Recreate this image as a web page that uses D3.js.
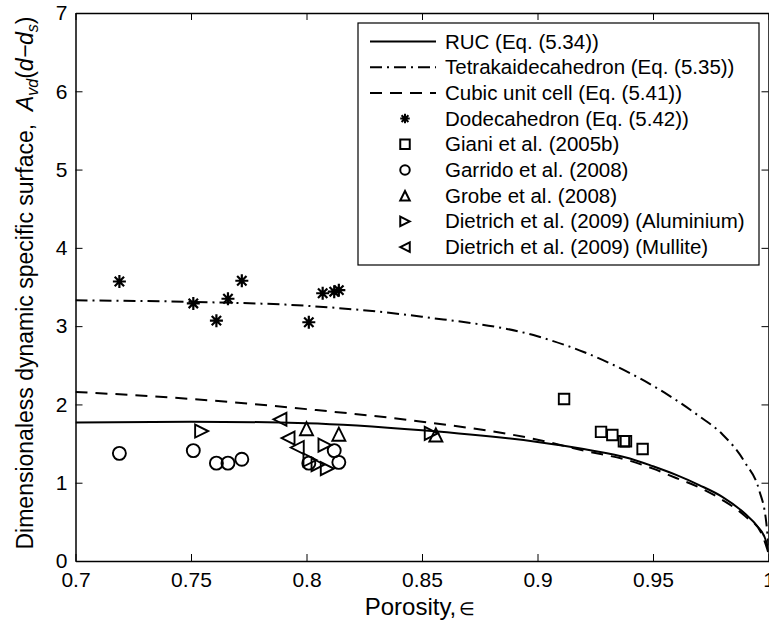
<!DOCTYPE html>
<html>
<head>
<meta charset="utf-8">
<script src="https://cdn.jsdelivr.net/npm/d3@7"></script>
<style>
  body { margin: 0; background: #fff; }
  text { font-family: "Liberation Sans", Arial, sans-serif; fill: #000; }
</style>
</head>
<body>
<div id="vis"></div>
<script>
// curves
var rucX   = [0.70, 0.75, 0.80, 0.85, 0.90, 0.92, 0.94, 0.95, 0.96, 0.97, 0.98, 0.99, 0.995, 0.999, 1.0];
var rucY   = [1.77, 1.78, 1.76, 1.67, 1.52, 1.43, 1.31, 1.21, 1.10, 0.97, 0.82, 0.60, 0.45, 0.25, 0.12];
var tetraX = [0.70, 0.75, 0.80, 0.85, 0.90, 0.92, 0.94, 0.955, 0.97, 0.98, 0.99, 0.996, 0.999, 1.0];
var tetraY = [3.33, 3.31, 3.26, 3.12, 2.87, 2.67, 2.40, 2.15, 1.85, 1.62, 1.25, 0.90, 0.50, 0.20];
var cubicX = [0.70, 0.75, 0.80, 0.85, 0.90, 0.92, 0.94, 0.95, 0.96, 0.97, 0.98, 0.99, 0.997, 1.0];
var cubicY = [2.16, 2.07, 1.94, 1.78, 1.55, 1.41, 1.28, 1.18, 1.06, 0.94, 0.78, 0.57, 0.35, 0.10];

// measured points
var dodecaX  = [0.719, 0.751, 0.761, 0.766, 0.772, 0.801, 0.807, 0.812, 0.814];
var dodecaY  = [3.57, 3.29, 3.07, 3.35, 3.58, 3.05, 3.42, 3.44, 3.46];
var gianiX   = [0.9115, 0.9275, 0.9324, 0.9374, 0.9383, 0.9455];
var gianiY   = [2.07, 1.65, 1.61, 1.53, 1.53, 1.43];
var garridoX = [0.719, 0.751, 0.761, 0.766, 0.772, 0.801, 0.812, 0.814];
var garridoY = [1.375, 1.41, 1.25, 1.25, 1.30, 1.25, 1.41, 1.26];
var grobeX   = [0.800, 0.814, 0.856];
var grobeY   = [1.69, 1.62, 1.61];
var aluX     = [0.7546, 0.8015, 0.805, 0.808, 0.809, 0.854];
var aluY     = [1.66, 1.29, 1.23, 1.48, 1.18, 1.63];
var mulX     = [0.7885, 0.792, 0.796];
var mulY     = [1.81, 1.57, 1.45];

var xTicks = [0.7, 0.75, 0.8, 0.85, 0.9, 0.95, 1];
var yTicks = [0, 1, 2, 3, 4, 5, 6, 7];

var legendLabels = [
  'RUC (Eq. (5.34))',
  'Tetrakaidecahedron (Eq. (5.35))',
  'Cubic unit cell (Eq. (5.41))',
  'Dodecahedron (Eq. (5.42))',
  'Giani et al. (2005b)',
  'Garrido et al. (2008)',
  'Grobe et al. (2008)',
  'Dietrich et al. (2009) (Aluminium)',
  'Dietrich et al. (2009) (Mullite)'
];

var width = 769, height = 625;
var plotLeft = 75.5, plotRight = 768.5, plotTop = 13, plotBottom = 561;

var svg = d3.select('#vis').append('svg')
  .attr('width', width)
  .attr('height', height);

var xScale = d3.scaleLinear().domain([0.7, 1]).range([plotLeft, plotRight]);
var yScale = d3.scaleLinear().domain([0, 7]).range([plotBottom, plotTop]);

function zip(xs, ys) {
  return xs.map(function(x, i) { return [x, ys[i]]; });
}

svg.append('clipPath').attr('id', 'clip')
  .append('rect')
  .attr('x', plotLeft).attr('y', plotTop)
  .attr('width', plotRight - plotLeft).attr('height', plotBottom - plotTop);

var line = d3.line()
  .x(function(d) { return xScale(d[0]); })
  .y(function(d) { return yScale(d[1]); })
  .curve(d3.curveMonotoneX);

var plot = svg.append('g').attr('clip-path', 'url(#clip)');

var curves = [
  { data: zip(rucX, rucY), dash: null },
  { data: zip(tetraX, tetraY), dash: '12,5,2,5' },
  { data: zip(cubicX, cubicY), dash: '12,8' }
];

curves.forEach(function(c) {
  plot.append('path')
    .attr('d', line(c.data))
    .attr('fill', 'none')
    .attr('stroke', '#000')
    .attr('stroke-width', 2)
    .attr('stroke-dasharray', c.dash);
});

// marker shapes
function markerPath(type, s) {
  var h = s / 2;
  if (type === 'star') {
    var d = h * 0.72;
    return 'M' + (-h) + ',0L' + h + ',0M0,' + (-h) + 'L0,' + h +
      'M' + (-d) + ',' + (-d) + 'L' + d + ',' + d +
      'M' + (-d) + ',' + d + 'L' + d + ',' + (-d);
  }
  if (type === 'square') {
    return 'M' + (-h) + ',' + (-h) + 'H' + h + 'V' + h + 'H' + (-h) + 'Z';
  }
  if (type === 'circle') {
    return 'M' + h + ',0A' + h + ',' + h + ' 0 1,1 ' + (-h) + ',0A' + h + ',' + h + ' 0 1,1 ' + h + ',0Z';
  }
  if (type === 'up') {
    return 'M0,' + (-h) + 'L' + h + ',' + h + 'L' + (-h) + ',' + h + 'Z';
  }
  if (type === 'right') {
    return 'M' + h + ',0L' + (-h) + ',' + h + 'L' + (-h) + ',' + (-h) + 'Z';
  }
  if (type === 'left') {
    return 'M' + (-h) + ',0L' + h + ',' + (-h) + 'L' + h + ',' + h + 'Z';
  }
}

var pointSets = [
  { data: zip(dodecaX, dodecaY), type: 'star', size: 13 },
  { data: zip(gianiX, gianiY), type: 'square', size: 10.5 },
  { data: zip(garridoX, garridoY), type: 'circle', size: 13 },
  { data: zip(grobeX, grobeY), type: 'up', size: 13 },
  { data: zip(aluX, aluY), type: 'right', size: 13 },
  { data: zip(mulX, mulY), type: 'left', size: 13 }
];

pointSets.forEach(function(p) {
  svg.append('g').selectAll('path')
    .data(p.data)
    .enter().append('path')
    .attr('transform', function(d) { return 'translate(' + xScale(d[0]) + ',' + yScale(d[1]) + ')'; })
    .attr('d', markerPath(p.type, p.size))
    .attr('fill', 'none')
    .attr('stroke', '#000')
    .attr('stroke-width', p.type === 'star' ? 2.2 : 1.9);
});

// axes, ticks inside like the original
var fmt = function(d) { return String(d); };
var xAxis = d3.axisBottom(xScale).tickValues(xTicks).tickSizeInner(-7).tickSizeOuter(0).tickPadding(11)
  .tickFormat(fmt);
var yAxis = d3.axisLeft(yScale).tickValues(yTicks).tickSizeInner(-7).tickSizeOuter(0).tickPadding(8)
  .tickFormat(fmt);
var xTop = d3.axisTop(xScale).tickValues(xTicks).tickSizeInner(-7).tickSizeOuter(0).tickFormat('');
var yRight = d3.axisRight(yScale).tickValues(yTicks).tickSizeInner(-7).tickSizeOuter(0).tickFormat('');

function styleAxis(g) {
  g.selectAll('path').attr('stroke', '#000').attr('stroke-width', 1.5);
  g.selectAll('line').attr('stroke', '#000').attr('stroke-width', 1);
  g.selectAll('text').attr('fill', '#000')
    .style('font-size', '21px')
    .style('font-family', '"Liberation Sans", Arial, sans-serif');
}

svg.append('g').attr('transform', 'translate(0,' + plotBottom + ')').call(xAxis).call(styleAxis);
svg.append('g').attr('transform', 'translate(' + plotLeft + ',0)').call(yAxis).call(styleAxis);
svg.append('g').attr('transform', 'translate(0,' + plotTop + ')').call(xTop).call(styleAxis);
svg.append('g').attr('transform', 'translate(' + plotRight + ',0)').call(yRight).call(styleAxis);

// axis labels
var xl = svg.append('text')
  .attr('x', (plotLeft + plotRight) / 2 - 2)
  .attr('y', 615)
  .attr('text-anchor', 'middle')
  .style('font-size', '24px');
xl.append('tspan').text('Porosity,');
xl.append('tspan').attr('dx', 3).style('font-size', '18px').text('\u2208');

var yl = svg.append('text')
  .attr('transform', 'translate(33,' + ((plotTop + plotBottom) / 2 - 4) + ') rotate(-90)')
  .attr('text-anchor', 'middle')
  .style('font-size', '23px');
yl.append('tspan').text('Dimensionaless dynamic specific surface,\u00a0\u00a0');
yl.append('tspan').style('font-style', 'italic').text('A');
yl.append('tspan').style('font-style', 'italic').style('font-size', '16px').attr('dy', 5).text('vd');
yl.append('tspan').attr('dy', -5).text('(');
yl.append('tspan').style('font-style', 'italic').text('d\u2212d');
yl.append('tspan').style('font-style', 'italic').style('font-size', '16px').attr('dy', 5).text('s');
yl.append('tspan').attr('dy', -5).text(')');

// legend
var lx = 358, ly = 23, lw = 401, lh = 242;
var legend = svg.append('g');
legend.append('rect')
  .attr('x', lx).attr('y', ly).attr('width', lw).attr('height', lh)
  .attr('fill', '#fff').attr('stroke', '#000').attr('stroke-width', 1.2);

var rowY = function(i) { return 41.5 + i * 25.7; };
var dashes = [null, '12,5,2,5', '12,8'];
var legendMarks = ['star', 'square', 'circle', 'up', 'right', 'left'];

legendLabels.forEach(function(lbl, i) {
  var cy = rowY(i);
  if (i < 3) {
    legend.append('line')
      .attr('x1', 370).attr('x2', 436).attr('y1', cy).attr('y2', cy)
      .attr('stroke', '#000').attr('stroke-width', 2)
      .attr('stroke-dasharray', dashes[i]);
  } else {
    legend.append('path')
      .attr('transform', 'translate(405,' + cy + ')')
      .attr('d', markerPath(legendMarks[i - 3], 9.5))
      .attr('fill', 'none').attr('stroke', '#000').attr('stroke-width', 2);
  }
  legend.append('text')
    .attr('x', 445).attr('y', cy + 7)
    .style('font-size', '20.5px')
    .text(lbl);
});
</script>
</body>
</html>
